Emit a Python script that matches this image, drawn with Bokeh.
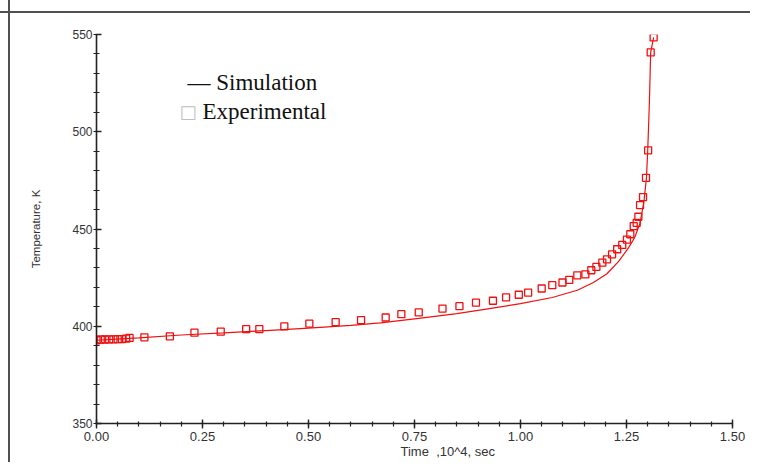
from bokeh.plotting import figure
from bokeh.models import Range1d, FixedTicker, NumeralTickFormatter, Label, Title
from bokeh.embed import file_html
from bokeh.resources import INLINE

# Data (time in 10^4 s, temperature in K)
exp_t = [0.000, 0.010, 0.020, 0.030, 0.040, 0.050, 0.060, 0.070, 0.078,
         0.113, 0.173, 0.231, 0.293, 0.353, 0.384, 0.443, 0.502, 0.564, 0.624,
         0.682, 0.719, 0.760, 0.816, 0.856, 0.895, 0.935, 0.966, 0.996, 1.018,
         1.050, 1.075, 1.099, 1.115, 1.134, 1.153, 1.167, 1.179, 1.193, 1.204,
         1.216, 1.228, 1.240, 1.251, 1.259, 1.267, 1.274, 1.278, 1.282, 1.289,
         1.296, 1.301, 1.307, 1.314]
exp_T = [392.8, 393.2, 393.2, 393.3, 393.3, 393.4, 393.4, 393.6, 394.0,
         394.3, 394.8, 396.7, 397.2, 398.5, 398.5, 399.9, 401.3, 402.1, 403.2,
         404.5, 406.2, 407.1, 409.1, 410.3, 412.1, 413.1, 414.8, 416.2, 417.3,
         419.4, 421.1, 422.5, 423.8, 426.2, 426.7, 428.8, 430.5, 432.7, 434.4,
         437.0, 439.6, 441.8, 444.5, 447.3, 451.5, 453.2, 456.3, 462.3, 466.4,
         476.3, 490.4, 540.8, 548.5]

sim_t = [0.000, 0.100, 0.200, 0.300, 0.400, 0.500, 0.600, 0.670, 0.760,
         0.850, 0.900, 1.000, 1.075, 1.134, 1.172, 1.204, 1.232, 1.255,
         1.269, 1.282, 1.291, 1.297, 1.300, 1.304, 1.307, 1.314]
sim_T = [392.8, 394.0, 395.5, 396.6, 397.8, 399.0, 400.4, 401.7, 404.0,
         406.5, 408.2, 411.6, 414.8, 418.5, 422.5, 427.0, 433.5, 440.4,
         445.5, 453.0, 464.0, 476.0, 490.0, 515.0, 540.8, 548.5]

x_ticks = [0.0, 0.25, 0.5, 0.75, 1.0, 1.25, 1.5]
x_minor = [round(i * 0.05, 2) for i in range(31)]
y_ticks = [350, 400, 450, 500, 550]
y_minor = list(range(350, 551, 10))

RED = "#f01010"

p = figure(width=750, height=462, output_backend="svg", toolbar_location=None,
           x_range=Range1d(0, 1.5), y_range=Range1d(350, 550),
           min_border_left=96, min_border_right=18, min_border_top=34,
           min_border_bottom=39)
p.grid.visible = False
p.outline_line_color = None
p.background_fill_color = None
p.border_fill_color = None
# outer frame of the original figure (top and left edges)
p.styles = {
    "background-color": "white",
    "background-image": (
        "linear-gradient(to bottom, transparent 11px, #505050 11px, #505050 13px, transparent 13px), "
        "linear-gradient(to right, transparent 8px, #505050 8px, #505050 10px, transparent 10px)"
    ),
}

p.line(sim_t, sim_T, line_color=RED, line_width=1.2)
p.scatter(exp_t, exp_T, marker="square", size=7, line_color=RED,
          fill_color=None, line_width=1.3)

for ax in (p.xaxis[0], p.yaxis[0]):
    ax.axis_line_color = "#222222"
    ax.axis_line_width = 1.6
    ax.major_tick_line_color = "#222222"
    ax.minor_tick_line_color = "#222222"
    ax.major_tick_line_width = 1.4
    ax.minor_tick_line_width = 1.2
    ax.major_label_text_font = "Liberation Sans"
    ax.major_label_text_color = "#333333"
    ax.major_label_text_font_style = "normal"

xa = p.xaxis[0]
xa.ticker = FixedTicker(ticks=x_ticks, minor_ticks=x_minor)
xa.formatter = NumeralTickFormatter(format="0.00")
xa.major_tick_in = 4
xa.major_tick_out = 5
xa.minor_tick_in = 2
xa.minor_tick_out = 3
xa.major_label_standoff = 3
xa.major_label_text_font_size = "13px"

ya = p.yaxis[0]
ya.ticker = FixedTicker(ticks=y_ticks, minor_ticks=y_minor)
ya.major_tick_in = 5
ya.major_tick_out = 1
ya.minor_tick_in = 3
ya.minor_tick_out = 3
ya.major_label_standoff = 1
ya.major_label_text_font_size = "12px"
ya.axis_label = "Temperature, K"
ya.axis_label_text_font = "Liberation Sans"
ya.axis_label_text_font_size = "11.5px"
ya.axis_label_text_font_style = "normal"
ya.axis_label_text_color = "#333333"
ya.axis_label_standoff = 27

# x-axis title, offset to the right as in the original
p.add_layout(Title(text="Time \u00a0,10^4, sec", align="left", offset=304, standoff=-3,
                   text_font="Liberation Sans", text_font_size="13px",
                   text_font_style="normal", text_color="#333333"), "below")

# legend drawn as text
p.add_layout(Label(x=0.2146, y=525.4, text="\u2014 Simulation", text_align="left",
                   text_baseline="middle", text_font="Liberation Serif",
                   text_font_size="23px", text_color="#111111"))
p.add_layout(Label(x=0.196, y=510.5, text="\u25a1", text_align="left",
                   text_baseline="middle", text_font="DejaVu Sans",
                   text_font_size="18px", text_color="#c0c0c0"))
p.add_layout(Label(x=0.250, y=510.5, text="Experimental", text_align="left",
                   text_baseline="middle", text_font="Liberation Serif",
                   text_font_size="23px", text_color="#111111"))

open("out.html", "w").write(file_html(p, INLINE))
